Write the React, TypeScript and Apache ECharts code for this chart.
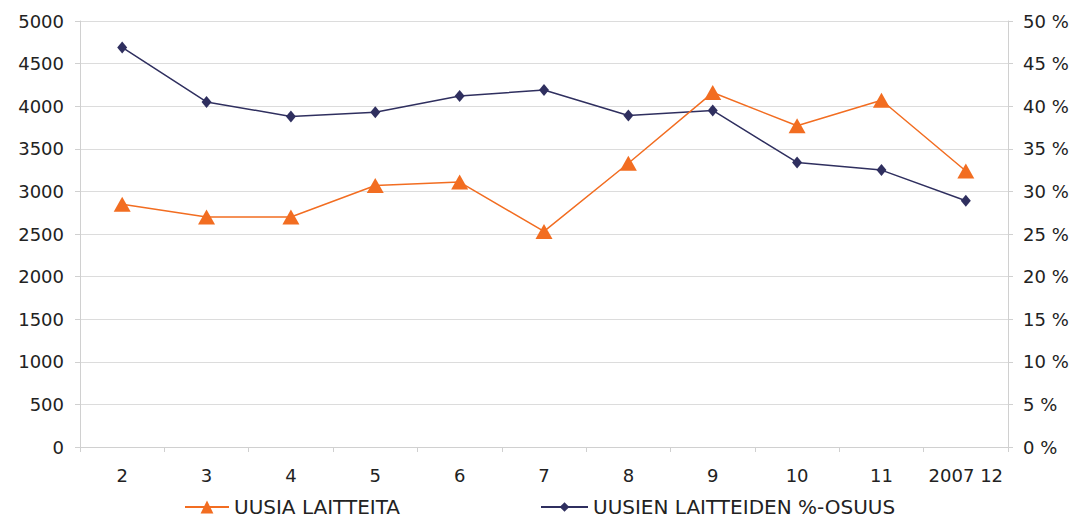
import React, { useEffect, useRef } from "react";
import * as echarts from "echarts";

const categories = ["2", "3", "4", "5", "6", "7", "8", "9", "10", "11", "2007 12"];
const newDevices = [2850, 2700, 2700, 3070, 3110, 2530, 3330, 4160, 3770, 4070, 3240];
const sharePercent = [46.9, 40.5, 38.8, 39.3, 41.2, 41.9, 38.9, 39.5, 33.4, 32.5, 28.9];
const seriesNames = ["UUSIA LAITTEITA", "UUSIEN LAITTEIDEN %-OSUUS"];

const FONT = "'DejaVu Sans', Verdana, sans-serif";
const ORANGE = "#f26d21";
const NAVY = "#2f2f5f";

export default function App() {
  const ref = useRef<HTMLDivElement>(null);
  useEffect(() => {
    if (!ref.current) return;
    const chart = echarts.init(ref.current, undefined, { renderer: "svg" });
    const axisLineStyle = { color: "#d0d0d0", width: 1 };
    chart.setOption({
      animation: false,
      backgroundColor: "#ffffff",
      textStyle: { fontFamily: FONT },
      grid: { left: 80, right: 74, top: 21, bottom: 72, containLabel: false },
      legend: [
        {
          data: [seriesNames[0]],
          left: 184,
          top: 497,
          padding: 0,
          itemWidth: 44,
          itemHeight: 16,
          itemGap: 4,
          textStyle: { fontFamily: FONT, fontSize: 20, color: "#222" },
        },
        {
          data: [seriesNames[1]],
          left: 540,
          top: 497,
          padding: 0,
          itemWidth: 47,
          itemHeight: 12,
          itemGap: 4,
          textStyle: { fontFamily: FONT, fontSize: 20, color: "#222" },
        },
      ],
      xAxis: {
        type: "category",
        data: categories,
        boundaryGap: true,
        axisLine: { show: true, lineStyle: axisLineStyle },
        axisTick: { show: true, length: 5, lineStyle: axisLineStyle },
        axisLabel: { fontFamily: FONT, fontSize: 18, color: "#222", margin: 19, interval: 0 },
        splitLine: { show: false },
      },
      yAxis: [
        {
          type: "value",
          min: 0,
          max: 5000,
          interval: 500,
          position: "left",
          axisLine: { show: true, lineStyle: axisLineStyle },
          axisTick: { show: true, length: 5, lineStyle: axisLineStyle },
          axisLabel: {
            fontFamily: FONT,
            fontSize: 18,
            color: "#222",
            margin: 16,
            formatter: (v: number) => String(v),
          },
          splitLine: { show: true, lineStyle: { color: "#dcdcdc", width: 1 } },
        },
        {
          type: "value",
          min: 0,
          max: 50,
          interval: 5,
          position: "right",
          axisLine: { show: true, lineStyle: axisLineStyle },
          axisTick: { show: true, length: 5, lineStyle: axisLineStyle },
          axisLabel: {
            fontFamily: FONT,
            fontSize: 18,
            color: "#222",
            margin: 15,
            formatter: (v: number) => `${v} %`,
          },
          splitLine: { show: false },
        },
      ],
      series: [
        {
          name: seriesNames[0],
          type: "line",
          yAxisIndex: 0,
          data: newDevices,
          symbol: "triangle",
          symbolSize: [17, 15],
          itemStyle: { color: ORANGE },
          lineStyle: { color: ORANGE, width: 1.5 },
          z: 3,
        },
        {
          name: seriesNames[1],
          type: "line",
          yAxisIndex: 1,
          data: sharePercent,
          symbol: "diamond",
          symbolSize: [10, 12],
          itemStyle: { color: NAVY },
          lineStyle: { color: NAVY, width: 1.5 },
          z: 2,
        },
      ],
    });
    return () => chart.dispose();
  }, []);
  return <div ref={ref} style={{ width: 1082, height: 519, position: "absolute", left: 0, top: 0 }} />;
}
